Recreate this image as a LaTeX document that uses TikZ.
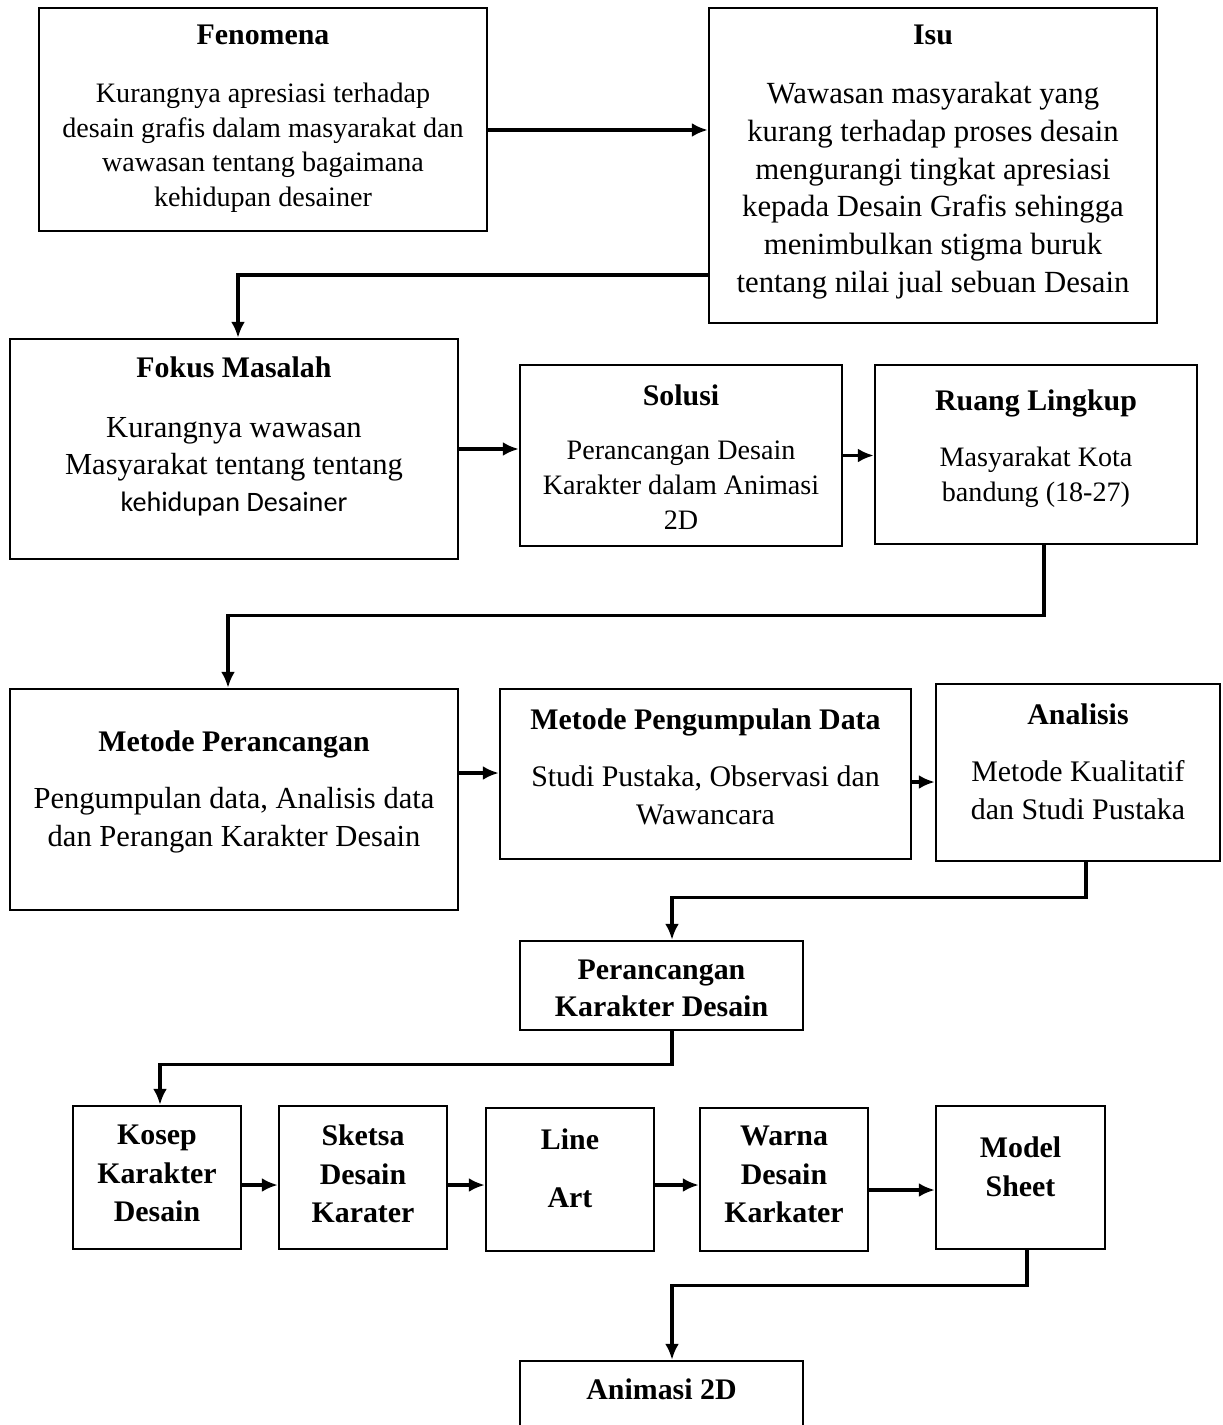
\documentclass[tikz,border=0pt]{standalone}
\usepackage{fontspec}
\setmainfont{Liberation Serif}
\newfontfamily\carlito{Carlito}
\usetikzlibrary{positioning}
\usetikzlibrary{arrows.meta}

\begin{document}
\begin{tikzpicture}[box/.style = {draw, line width = 1.4pt, inner sep = 0pt},
  txt/.style = {inner sep = 0pt, align = center, font = \fontsize{17}{21.5}\selectfont},
  small txt/.style = {txt, font = \fontsize{16}{19.8}\selectfont},
  link/.style = {line width = 1.9pt, -{Latex[length = 3.2mm, width = 2.8mm]}}]
\def\ttl#1{{\fontsize{17}{20}\selectfont\bfseries #1}}

\useasboundingbox (0, 0) rectangle (24.46, -28.5);
\clip (0, 0) rectangle (24.46, -28.5);

% boxes
\node[box, minimum width = 8.96cm, minimum height = 4.46cm] (fen) at (5.26, -2.39) {};
\node[box, minimum width = 8.96cm, minimum height = 6.30cm] (isu) at (18.66, -3.31) {};
\node[box, minimum width = 8.96cm, minimum height = 4.40cm] (fok) at (4.68, -8.98) {};
\node[box, minimum width = 6.44cm, minimum height = 3.62cm] (sol) at (13.62, -9.11) {};
\node[box, minimum width = 6.44cm, minimum height = 3.58cm] (rl) at (20.72, -9.09) {};
\node[box, minimum width = 8.96cm, minimum height = 4.42cm] (mp) at (4.68, -15.99) {};
\node[box, minimum width = 8.22cm, minimum height = 3.40cm] (mpd) at (14.11, -15.48) {};
\node[box, minimum width = 5.68cm, minimum height = 3.54cm] (an) at (21.56, -15.45) {};
\node[box, minimum width = 5.66cm, minimum height = 1.78cm] (pkd) at (13.23, -19.71) {};
\node[box, minimum width = 3.36cm, minimum height = 2.86cm] (kos) at (3.14, -23.55) {};
\node[box, minimum width = 3.36cm, minimum height = 2.86cm] (sk) at (7.26, -23.55) {};
\node[box, minimum width = 3.36cm, minimum height = 2.86cm] (la) at (11.40, -23.59) {};
\node[box, minimum width = 3.36cm, minimum height = 2.86cm] (wr) at (15.68, -23.59) {};
\node[box, minimum width = 3.38cm, minimum height = 2.86cm] (ms) at (20.41, -23.55) {};
\node[box, minimum width = 5.66cm, minimum height = 1.78cm] (anim) at (13.23, -28.11) {};

% texts
\node[small txt, below = 0.36cm of fen.north] (fen-txt) {\ttl{Fenomena}\\[13pt]
  Kurangnya apresiasi terhadap\\desain grafis dalam masyarakat dan\\
  wawasan tentang bagaimana\\kehidupan desainer};
\node[txt, font = \fontsize{17.5}{21.5}\selectfont, below = 0.36cm of isu.north] (isu-txt) {\ttl{Isu}\\[12pt]
  Wawasan masyarakat yang\\kurang terhadap proses desain\\mengurangi tingkat apresiasi\\
  kepada Desain Grafis sehingga\\menimbulkan stigma buruk\\tentang nilai jual sebuan Desain};
\node[txt, font = \fontsize{17.4}{21}\selectfont, below = 0.38cm of fok.north] (fok-txt) {\ttl{Fokus Masalah}\\[13pt]
  Kurangnya wawasan\\Masyarakat tentang tentang\\
  {\carlito\fontsize{16}{21}\selectfont kehidupan Desainer}};
\node[small txt, below = 0.42cm of sol.north] (sol-txt) {\ttl{Solusi}\\[11pt]
  Perancangan Desain\\Karakter dalam Animasi\\2D};
\node[small txt, below = 0.52cm of rl.north] (rl-txt) {\ttl{Ruang Lingkup}\\[12pt]
  Masyarakat Kota\\bandung (18-27)};
\node[txt, font = \fontsize{17.4}{21.5}\selectfont, below = 0.86cm of mp.north] (mp-txt) {\ttl{Metode Perancangan}\\[11pt]
  Pengumpulan data, Analisis data\\dan Perangan Karakter Desain};
\node[txt, below = 0.42cm of mpd.north] (mpd-txt) {\ttl{Metode Pengumpulan Data}\\[11pt]
  Studi Pustaka, Observasi dan\\Wawancara};
\node[txt, font = \fontsize{17}{22}\selectfont, below = 0.42cm of an.north] (an-txt) {\ttl{Analisis}\\[10pt]
  Metode Kualitatif\\dan Studi Pustaka};
\node[txt, font = \fontsize{17}{21}\selectfont\bfseries, below = 0.40cm of pkd.north] (pkd-txt) {Perancangan\\Karakter Desain};
\node[txt, font = \fontsize{17}{21.8}\selectfont\bfseries, below = 0.40cm of kos.north] (kos-txt) {Kosep\\Karakter\\Desain};
\node[txt, font = \fontsize{17}{21.8}\selectfont\bfseries, below = 0.40cm of sk.north] (sk-txt) {Sketsa\\Desain\\Karater};
\node[txt, font = \fontsize{17}{21.8}\selectfont\bfseries, below = 0.44cm of la.north] (la-txt) {Line\\[11pt]Art};
\node[txt, font = \fontsize{17}{21.8}\selectfont\bfseries, below = 0.38cm of wr.north] (wr-txt) {Warna\\Desain\\Karkater};
\node[txt, font = \fontsize{17}{22}\selectfont\bfseries, below = 0.64cm of ms.north] (ms-txt) {Model\\Sheet};
\node[txt, font = \fontsize{17}{21}\selectfont\bfseries, below = 0.38cm of anim.north] (anim-txt) {Animasi 2D};

% connectors
\draw[link] ([yshift = -0.21cm]fen.east) -- ([yshift = -0.21cm]fen.east -| isu.west);
\draw[link] ([yshift = -2.19cm]isu.west) -| ([xshift = 0.08cm]fok.north);
\draw[link] (fok.east) -- (fok.east -| sol.west);
\draw[link] (sol.east) -- (sol.east -| rl.west);
\draw[link] ([xshift = 0.16cm]rl.south) -- ++(0, -1.40) -| ([xshift = -0.12cm]mp.north);
\draw[link] ([yshift = 0.53cm]mp.east) -- ([yshift = 0.53cm]mp.east -| mpd.west);
\draw[link] ([yshift = -0.16cm]mpd.east) -- ([yshift = -0.16cm]mpd.east -| an.west);
\draw[link] ([xshift = 0.16cm]an.south) -- ++(0, -0.70) -| ([xshift = 0.21cm]pkd.north);
\draw[link] ([xshift = 0.21cm]pkd.south) -- ++(0, -0.66) -| ([xshift = 0.06cm]kos.north);
\draw[link] ([yshift = -0.15cm]kos.east) -- ([yshift = -0.15cm]kos.east -| sk.west);
\draw[link] ([yshift = -0.15cm]sk.east) -- ([yshift = -0.15cm]sk.east -| la.west);
\draw[link] ([yshift = -0.11cm]la.east) -- ([yshift = -0.11cm]la.east -| wr.west);
\draw[link] ([yshift = -0.21cm]wr.east) -- ([yshift = -0.21cm]wr.east -| ms.west);
\draw[link] ([xshift = 0.13cm]ms.south) -- ++(0, -0.70) -| ([xshift = 0.21cm]anim.north);
\end{tikzpicture}
\end{document}
